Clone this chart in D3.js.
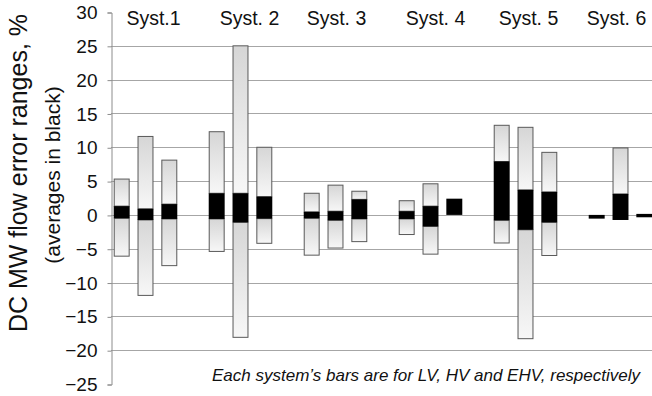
<!DOCTYPE html>
<html>
<head>
<meta charset="utf-8">
<script src="https://cdn.jsdelivr.net/npm/d3@7"></script>
<style>
  html, body { margin: 0; padding: 0; background: #fff; }
  svg { display: block; font-family: "Liberation Sans", Arial, sans-serif; }
</style>
</head>
<body>
<svg id="chart"></svg>
<script>
const systems = ["Syst.1", "Syst. 2", "Syst. 3", "Syst. 4", "Syst. 5", "Syst. 6"];
const levels = ["LV", "HV", "EHV"];

// error range top / bottom, per system, LV HV EHV
const rangeMax = [[5.3, 11.6, 8.1], [12.3, 25, 10], [3.2, 4.4, 3.5], [2.1, 4.6, 2.4], [13.25, 12.95, 9.25], [0, 9.9, 0.15]];
const rangeMin = [[-6.1, -11.9, -7.5], [-5.4, -18.1, -4.2], [-5.95, -4.9, -3.95], [-2.9, -5.8, 0], [-4.15, -18.3, -6.0], [-0.55, -0.75, -0.35]];
// averages (black part)
const avgHigh = [[1.3, 0.9, 1.6], [3.2, 3.2, 2.7], [0.45, 0.55, 2.3], [0.55, 1.3, 2.4], [7.9, 3.7, 3.4], [0, 3.1, 0.15]];
const avgLow = [[-0.5, -0.75, -0.6], [-0.6, -1.1, -0.55], [-0.5, -0.8, -0.6], [-0.6, -1.7, 0], [-0.8, -2.2, -1.1], [-0.55, -0.75, -0.35]];

const yTicks = [30, 25, 20, 15, 10, 5, 0, -5, -10, -15, -20, -25];
const gridValues = [25, 20, 15, 10, 5, 0, -5, -10, -15, -20];

const width = 652, height = 396;
const svg = d3.select("#chart").attr("width", width).attr("height", height);

const axisX = 111;
const y = d3.scaleLinear().domain([-25, 30]).range([384, 12]);
const x0 = d3.scaleBand().domain(systems).range([98, 668]);
const x1 = d3.scaleBand().domain(levels).range([0, x0.bandwidth()])
  .paddingInner(0.33).paddingOuter(0.66);

const defs = svg.append("defs");
const grad = defs.append("linearGradient")
  .attr("id", "barFill")
  .attr("x1", 0).attr("y1", 0).attr("x2", 0).attr("y2", 1);
grad.append("stop").attr("offset", "0%").attr("stop-color", "#d6d6d6");
grad.append("stop").attr("offset", "100%").attr("stop-color", "#f7f7f7");

// gridlines
svg.append("g")
  .selectAll("line")
  .data(gridValues)
  .join("line")
  .attr("x1", axisX).attr("x2", width)
  .attr("y1", d => Math.round(y(d)) + 0.5)
  .attr("y2", d => Math.round(y(d)) + 0.5)
  .attr("stroke", "#a6a6a6")
  .attr("stroke-width", 1);

// y axis
const yAxis = d3.axisLeft(y).tickValues(yTicks).tickSize(4).tickPadding(10);
const gy = svg.append("g")
  .attr("transform", `translate(${axisX + 0.5},0.5)`)
  .call(yAxis);
gy.select(".domain").attr("stroke", "#8c8c8c");
gy.selectAll(".tick line").attr("stroke", "#8c8c8c");
gy.selectAll(".tick text")
  .attr("font-size", 19)
  .attr("font-family", "Liberation Sans, Arial, sans-serif")
  .attr("fill", "#111");

// axis titles
svg.append("text")
  .attr("transform", "translate(27,173) rotate(-90)")
  .attr("text-anchor", "middle")
  .attr("font-size", 25)
  .attr("fill", "#111")
  .text("DC MW flow error ranges, %");
svg.append("text")
  .attr("transform", "translate(60,175) rotate(-90)")
  .attr("text-anchor", "middle")
  .attr("font-size", 21)
  .attr("fill", "#111")
  .text("(averages in black)");

// bars
const rows = [];
systems.forEach((s, i) => {
  levels.forEach((l, j) => {
    rows.push({ s, l, max: rangeMax[i][j], min: rangeMin[i][j], hi: avgHigh[i][j], lo: avgLow[i][j] });
  });
});

const bars = svg.append("g");
rows.forEach(d => {
  const bx = x0(d.s) + x1(d.l);
  const bw = x1.bandwidth();
  if (d.max > d.hi) {
    bars.append("rect")
      .attr("x", bx + 0.5).attr("y", y(d.max))
      .attr("width", bw - 1).attr("height", y(d.hi) - y(d.max))
      .attr("fill", "url(#barFill)")
      .attr("stroke", "#595959").attr("stroke-width", 1);
  }
  if (d.lo > d.min) {
    bars.append("rect")
      .attr("x", bx + 0.5).attr("y", y(d.lo))
      .attr("width", bw - 1).attr("height", y(d.min) - y(d.lo))
      .attr("fill", "url(#barFill)")
      .attr("stroke", "#595959").attr("stroke-width", 1);
  }
  bars.append("rect")
    .attr("x", bx).attr("y", y(d.hi))
    .attr("width", bw).attr("height", y(d.lo) - y(d.hi))
    .attr("fill", "#000");
});

// system labels
const labelNudge = [8, 9, 1, 5, 3, -4];
svg.append("g")
  .selectAll("text")
  .data(systems)
  .join("text")
  .attr("x", (d, i) => x0(d) + x0.bandwidth() / 2 + labelNudge[i])
  .attr("y", 25)
  .attr("text-anchor", "middle")
  .attr("font-size", 19.5)
  .attr("fill", "#111")
  .text(d => d);

// note
svg.append("text")
  .attr("x", 640).attr("y", 381)
  .attr("text-anchor", "end")
  .attr("font-size", 17)
  .attr("font-style", "italic")
  .attr("fill", "#111")
  .text("Each system\u2019s bars are for LV, HV and EHV, respectively");
</script>
</body>
</html>
